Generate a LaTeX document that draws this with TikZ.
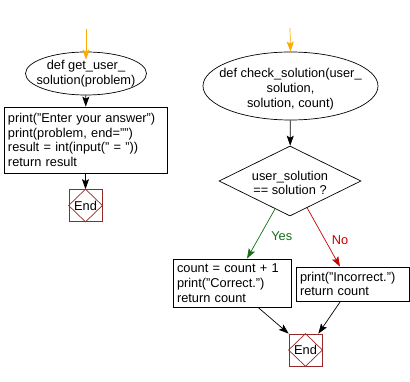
\documentclass[tikz,border=0pt]{standalone}
\usepackage{fontspec}
\setmainfont{Liberation Sans}
\usetikzlibrary{shapes.geometric,arrows.meta,calc}
\definecolor{endred}{RGB}{150,40,40}
\definecolor{startor}{RGB}{255,170,0}
\definecolor{yesgreen}{RGB}{20,110,20}
\definecolor{nored}{RGB}{200,0,0}
\begin{document}
\begin{tikzpicture}[x=1pt,y=-1pt,line width=0.7pt,
  font=\fontsize{12.8}{14.7}\selectfont,
  arr/.style={-{Stealth[length=10pt,width=7pt,inset=2pt]}},
  ell/.style={draw,ellipse,inner sep=0pt},
  txt/.style={inner sep=0pt,align=center},
  codebox/.style={draw,rectangle,align=left,inner xsep=4pt,inner ysep=0pt,anchor=center},
  dia/.style={draw,diamond,inner sep=0pt},
  endbox/.style={draw=endred,rectangle,minimum width=33pt,minimum height=32pt,inner sep=0pt}]
\useasboundingbox (0,0) rectangle (410,382);
% left flow
\coordinate (s1) at (86,29);
\node[ell,minimum width=121pt,minimum height=43pt] (e1) at (86,73.5) {};
\node[txt] (t1) at (86,74) {def get\_user\_\\solution(problem)};
\node[codebox,minimum width=163pt,minimum height=66pt,text width=155pt] (b1) at (85.5,140)
 {print("Enter your answer")\\print(problem, end="")\\result = int(input(" = "))\\return result};
\node[endbox] (end1) at (85.5,205.5) {};
\draw[endred] (end1.north)--(end1.east)--(end1.south)--(end1.west)--cycle;
\node[inner sep=0pt] (et1) at (end1.center) {End};
\draw[arr,startor] (s1) -- ([yshift=-8pt]e1.north);
\draw[arr] (e1) -- (b1);
\draw[arr] (b1) -- (end1);
% right flow
\coordinate (s2) at (290,28);
\node[ell,minimum width=175pt,minimum height=68pt] (e2) at (290.5,86) {};
\node[txt] (t2) at (290.5,89) {def check\_solution(user\_\\solution,\\solution, count)};
\node[dia,minimum width=142pt,minimum height=70pt] (d) at (290,181) {};
\node[txt] (dt) at (290,183) {user\_solution\\== solution ?};
\node[codebox,minimum width=118pt,minimum height=48pt,text width=110pt] (yes) at (232,283)
 {count = count + 1\\print("Correct.")\\return count};
\node[codebox,minimum width=113pt,minimum height=34pt,text width=105pt] (no) at (352.5,284)
 {print("Incorrect.")\\return count};
\node[endbox] (end2) at (305.5,350) {};
\draw[endred] (end2.north)--(end2.east)--(end2.south)--(end2.west)--cycle;
\node[inner sep=0pt] (et2) at (end2.center) {End};
\draw[arr,startor] (s2) -- (e2.north);
\draw[arr] (e2) -- (d);
\draw[arr,yesgreen] ($(d.south)!0.21!(d.west)$) -- ([xshift=15pt]yes.north)
  node[pos=0.55,right=8pt,text=yesgreen] (ly) {Yes};
\draw[arr,nored] ($(d.south)!0.24!(d.east)$) -- ([xshift=-12.5pt]no.north)
  node[pos=0.55,right=3pt,text=nored] (ln) {No};
\draw[arr] ([xshift=26pt]yes.south) -- (end2.north west);
\draw[arr] ([xshift=-12pt]no.south) -- ([xshift=-4pt]end2.north east);
\end{tikzpicture}
\end{document}
